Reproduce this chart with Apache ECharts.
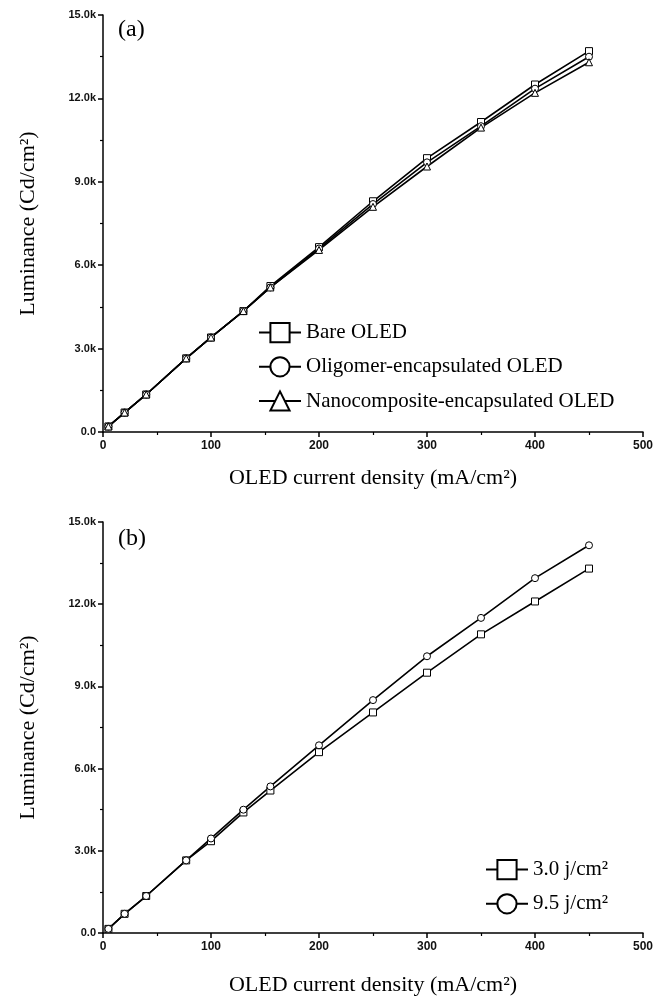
<!DOCTYPE html>
<html>
<head>
<meta charset="utf-8">
<script src="https://cdn.jsdelivr.net/npm/echarts@6/dist/echarts.min.js"></script>
<style>
  html, body { margin: 0; padding: 0; background: #fff; }
  #main { width: 668px; height: 1002px; }
</style>
</head>
<body>
<div id="main"></div>
<script>
// current density (mA/cm2)
const xA = [5, 20, 40, 77, 100, 130, 155, 200, 250, 300, 350, 400, 450];
const bareOled = [200, 700, 1350, 2650, 3400, 4350, 5250, 6650, 8300, 9850, 11150, 12500, 13700];
const oligomerOled = [200, 700, 1350, 2650, 3400, 4350, 5200, 6600, 8200, 9700, 11000, 12350, 13500];
const nanoOled = [200, 700, 1350, 2650, 3400, 4350, 5200, 6550, 8100, 9550, 10950, 12200, 13300];

const xB = [5, 20, 40, 77, 100, 130, 155, 200, 250, 300, 350, 400, 450];
const dose30 = [150, 700, 1350, 2650, 3350, 4400, 5200, 6600, 8050, 9500, 10900, 12100, 13300];
const dose95 = [150, 700, 1350, 2650, 3450, 4500, 5350, 6850, 8500, 10100, 11500, 12950, 14150];

const SERIF = '"Liberation Serif", "Times New Roman", serif';
const SANS = '"Liberation Sans", Arial, sans-serif';

function pairs(xs, ys) {
  return xs.map((x, i) => [x, ys[i]]);
}

function xAxisOpt(idx, gap) {
  return {
    type: 'value', gridIndex: idx, min: 0, max: 500, interval: 100,
    name: 'OLED current density (mA/cm²)', nameLocation: 'middle', nameGap: gap,
    nameTextStyle: { fontFamily: SERIF, fontSize: 22, color: '#000' },
    axisLine: { lineStyle: { color: '#000', width: 1.5 } },
    axisTick: { length: 5, lineStyle: { color: '#000', width: 1.5 } },
    minorTick: { show: true, splitNumber: 2, length: 3, lineStyle: { color: '#000', width: 1.2 } },
    axisLabel: { fontFamily: SANS, fontWeight: 'bold', fontSize: 12, color: '#111', margin: 8 },
    splitLine: { show: false }
  };
}

function yAxisOpt(idx) {
  return {
    type: 'value', gridIndex: idx, min: 0, max: 15000, interval: 3000,
    name: 'Luminance (Cd/cm²)', nameLocation: 'middle', nameGap: 64,
    nameTextStyle: { fontFamily: SERIF, fontSize: 22, color: '#000' },
    axisLine: { show: true, lineStyle: { color: '#000', width: 1.5 } },
    axisTick: { show: true, length: 5, lineStyle: { color: '#000', width: 1.5 } },
    minorTick: { show: true, splitNumber: 2, length: 3, lineStyle: { color: '#000', width: 1.2 } },
    axisLabel: {
      fontFamily: SANS, fontWeight: 'bold', fontSize: 11, color: '#111', margin: 7,
      formatter: v => v === 0 ? '0.0' : (v / 1000).toFixed(1) + 'k'
    },
    splitLine: { show: false }
  };
}

function lineSeries(name, idx, data, symbol) {
  return {
    type: 'line', name: name, xAxisIndex: idx, yAxisIndex: idx,
    data: data, symbol: symbol, symbolSize: 7, showSymbol: true,
    color: '#000',
    lineStyle: { color: '#000', width: 1.6 },
    itemStyle: { color: '#fff', borderColor: '#000', borderWidth: 1 }
  };
}

const legendText = { fontFamily: SERIF, fontSize: 21, color: '#000' };

const chart = echarts.init(document.getElementById('main'));
chart.setOption({
  backgroundColor: '#fff',
  animation: false,
  title: [
    { text: '(a)', left: 113, top: 13, textStyle: { fontFamily: SERIF, fontSize: 24, fontWeight: 'normal', color: '#000' } },
    { text: '(b)', left: 113, top: 522, textStyle: { fontFamily: SERIF, fontSize: 24, fontWeight: 'normal', color: '#000' } }
  ],
  grid: [
    { left: 103, right: 25, top: 15, height: 417 },
    { left: 103, right: 25, top: 522, height: 411 }
  ],
  xAxis: [xAxisOpt(0, 35), xAxisOpt(1, 41)],
  yAxis: [yAxisOpt(0), yAxisOpt(1)],
  legend: [
    {
      orient: 'vertical', left: 253, top: 317, itemWidth: 42, itemHeight: 24, itemGap: 13,
      data: ['Bare OLED', 'Oligomer-encapsulated OLED', 'Nanocomposite-encapsulated OLED'],
      textStyle: legendText
    },
    {
      orient: 'vertical', left: 480, top: 854, itemWidth: 42, itemHeight: 24, itemGap: 13,
      data: ['3.0 j/cm²', '9.5 j/cm²'],
      textStyle: legendText
    }
  ],
  series: [
    lineSeries('Bare OLED', 0, pairs(xA, bareOled), 'rect'),
    lineSeries('Oligomer-encapsulated OLED', 0, pairs(xA, oligomerOled), 'circle'),
    lineSeries('Nanocomposite-encapsulated OLED', 0, pairs(xA, nanoOled), 'triangle'),
    lineSeries('3.0 j/cm²', 1, pairs(xB, dose30), 'rect'),
    lineSeries('9.5 j/cm²', 1, pairs(xB, dose95), 'circle')
  ]
});
</script>
</body>
</html>
